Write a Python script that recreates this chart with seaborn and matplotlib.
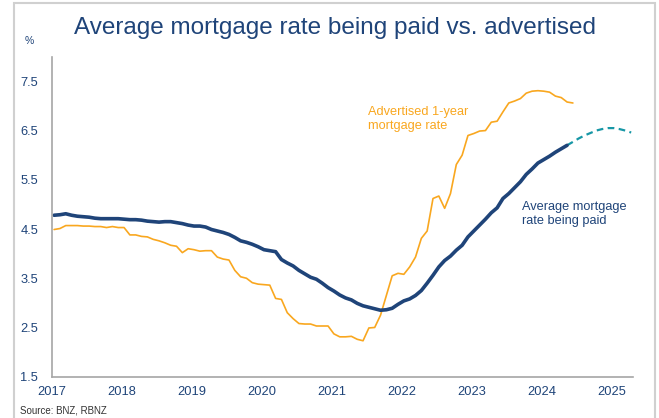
import numpy as np
import pandas as pd
import matplotlib
matplotlib.use("Agg")
import matplotlib.pyplot as plt
import seaborn as sns
from matplotlib.patches import Rectangle

# monthly data, Jan 2017 onwards
advertised = [4.49, 4.51, 4.57, 4.57, 4.57, 4.56, 4.56, 4.55, 4.55, 4.53, 4.55, 4.53,
              4.53, 4.38, 4.38, 4.35, 4.34, 4.29, 4.26, 4.22, 4.17, 4.15, 4.02, 4.10,
              4.08, 4.05, 4.06, 4.06, 3.93, 3.89, 3.87, 3.66, 3.53, 3.50, 3.41, 3.38,
              3.37, 3.36, 3.09, 3.07, 2.80, 2.68, 2.58, 2.57, 2.57, 2.53, 2.53, 2.53,
              2.37, 2.31, 2.31, 2.32, 2.26, 2.23, 2.49, 2.50, 2.75, 3.15, 3.55, 3.60,
              3.58, 3.73, 3.93, 4.31, 4.46, 5.12, 5.17, 4.92, 5.22, 5.81, 6.00, 6.40,
              6.44, 6.49, 6.50, 6.67, 6.69, 6.88, 7.06, 7.10, 7.15, 7.26, 7.30, 7.31,
              7.30, 7.28, 7.20, 7.17, 7.08, 7.06]
paid = [4.78, 4.79, 4.81, 4.78, 4.76, 4.75, 4.74, 4.72, 4.71, 4.71, 4.71, 4.71,
        4.70, 4.69, 4.69, 4.68, 4.66, 4.65, 4.64, 4.65, 4.65, 4.63, 4.61, 4.58,
        4.56, 4.56, 4.54, 4.49, 4.46, 4.43, 4.39, 4.33, 4.26, 4.23, 4.19, 4.14,
        4.08, 4.06, 4.04, 3.88, 3.81, 3.75, 3.66, 3.59, 3.52, 3.48, 3.40, 3.31,
        3.24, 3.16, 3.10, 3.06, 2.99, 2.94, 2.91, 2.88, 2.85, 2.86, 2.89, 2.97,
        3.04, 3.08, 3.15, 3.25, 3.40, 3.56, 3.73, 3.86, 3.95, 4.07, 4.17, 4.34,
        4.46, 4.58, 4.70, 4.83, 4.93, 5.12, 5.22, 5.34, 5.46, 5.61, 5.72, 5.84,
        5.91, 5.98, 6.06, 6.13, 6.20]
# forecast starts at the last paid month
forecast = [6.20, 6.27, 6.34, 6.40, 6.45, 6.50, 6.53, 6.55, 6.55, 6.53, 6.50, 6.46]
forecast_start = len(paid) - 1

year_ticks = list(range(2017, 2026))
y_ticks = [1.5, 2.5, 3.5, 4.5, 5.5, 6.5, 7.5]


def month_to_year(idx):
    return 2017 + (np.asarray(idx) + 0.35) / 12


adv_df = pd.DataFrame({"date": month_to_year(np.arange(len(advertised))), "rate": advertised})
paid_df = pd.DataFrame({"date": month_to_year(np.arange(len(paid))), "rate": paid})
fc_df = pd.DataFrame({"date": month_to_year(np.arange(len(forecast)) + forecast_start), "rate": forecast})

navy = "#1f4479"
orange = "#f9a71f"
teal = "#1797a6"
grey = "#a6a6a6"

sns.set_style("white")
plt.rcParams["font.family"] = ["Liberation Sans", "DejaVu Sans"]

fig = plt.figure(figsize=(6.59, 4.18), dpi=100)
ax = fig.add_axes([0.079, 0.0988, 0.881, 0.7655])

sns.lineplot(data=adv_df, x="date", y="rate", ax=ax, color=orange, linewidth=1.2)
sns.lineplot(data=fc_df, x="date", y="rate", ax=ax, color=teal, linewidth=1.6,
             linestyle=(0, (3, 2)))
sns.lineplot(data=paid_df, x="date", y="rate", ax=ax, color=navy, linewidth=2.6)

ax.set_xlim(2017, 2025.3)
ax.set_ylim(1.5, 8.0)
ax.set_xticks(year_ticks)
ax.set_xticklabels([str(y) for y in year_ticks])
ax.set_yticks(y_ticks)
ax.set_yticklabels([f"{v:.1f}" for v in y_ticks])
ax.set_xlabel("")
ax.set_ylabel("")
ax.tick_params(axis="both", colors=grey, labelcolor=navy, labelsize=9.3,
               length=4, width=1, direction="out")
ax.tick_params(axis="x", pad=3)
ax.tick_params(axis="y", pad=6)
for side in ["top", "right"]:
    ax.spines[side].set_visible(False)
for side in ["left", "bottom"]:
    ax.spines[side].set_color(grey)
    ax.spines[side].set_linewidth(1.2)

ax.text(2021.52, 6.73, "Advertised 1-year\nmortgage rate", color=orange,
        fontsize=9.2, va="center", ha="left", linespacing=1.25)
ax.text(2023.72, 4.8, "Average mortgage\nrate being paid", color=navy,
        fontsize=9.2, va="center", ha="left", linespacing=1.25)

fig.text(0.508, 0.933, "Average mortgage rate being paid vs. advertised",
         color=navy, fontsize=17.5, ha="center", va="center")
fig.text(0.045, 0.903, "%", color=navy, fontsize=7.5, ha="center", va="center")
fig.text(0.031, 0.018, "Source: BNZ, RBNZ", color="#333333", fontsize=7, ha="left",
         va="center")

fig.patches.append(Rectangle((14 / 659, -0.05), 641 / 659, 1.05 - 3 / 418,
                             transform=fig.transFigure, fill=False,
                             edgecolor="#d0d0d0", linewidth=1.5))

fig.savefig("out.png", dpi=100)
